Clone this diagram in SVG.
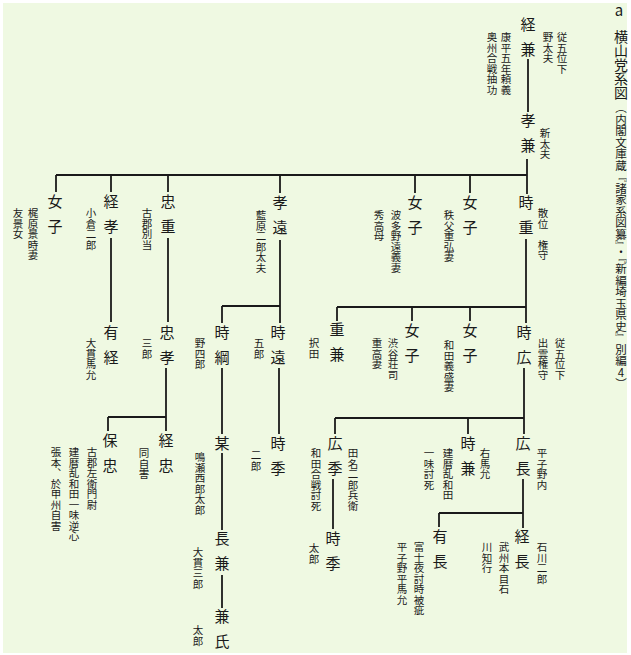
<svg xmlns="http://www.w3.org/2000/svg" width="631" height="655" viewBox="0 0 631 655">
<style>
text { font-family: "Noto Sans CJK JP", "Noto Sans CJK SC", sans-serif; fill: #1a1a1a; writing-mode: vertical-rl; text-orientation: upright; }
.n { font-size: 15px; letter-spacing: 10px; }
.a { font-size: 10.5px; }
.t { font-size: 14px; }
.s { font-size: 11.5px; }
.c line { stroke: #1a1a1a; stroke-width: 1.8; }
</style>
<rect width="631" height="655" fill="#ffffff"/>
<rect x="3" y="3" width="624" height="650" fill="#eff9e2"/>
<g id="title">
<text x="619" y="16" style="writing-mode:horizontal-tb" text-anchor="middle" font-size="15">a</text>
<text class="t" x="621" y="30">横山党系図</text>
<text class="s" x="621" y="102">（内閣文庫蔵『諸家系図纂』・『新編埼玉県史』別編4）</text>
</g>
<g class="c" id="connectors">
<line x1="528" y1="59" x2="528" y2="112"/>
<line x1="527" y1="159" x2="527" y2="194"/>
<line x1="56" y1="175" x2="527" y2="175"/>
<line x1="56" y1="175" x2="56" y2="192"/>
<line x1="111" y1="175" x2="111" y2="192"/>
<line x1="168" y1="175" x2="168" y2="192"/>
<line x1="280" y1="175" x2="280" y2="193"/>
<line x1="415" y1="175" x2="415" y2="193"/>
<line x1="470" y1="175" x2="470" y2="193"/>
<line x1="111" y1="238" x2="111" y2="322"/>
<line x1="168" y1="238" x2="168" y2="322"/>
<line x1="280" y1="240" x2="280" y2="306"/>
<line x1="222" y1="306" x2="280" y2="306"/>
<line x1="222" y1="306" x2="222" y2="323"/>
<line x1="280" y1="306" x2="280" y2="323"/>
<line x1="526" y1="239" x2="526" y2="323"/>
<line x1="337" y1="307" x2="526" y2="307"/>
<line x1="337" y1="307" x2="337" y2="321"/>
<line x1="412" y1="307" x2="412" y2="321"/>
<line x1="470" y1="307" x2="470" y2="321"/>
<line x1="166" y1="368" x2="166" y2="431"/>
<line x1="108" y1="417" x2="166" y2="417"/>
<line x1="108" y1="417" x2="108" y2="431"/>
<line x1="222" y1="368" x2="222" y2="434"/>
<line x1="222" y1="453" x2="222" y2="530"/>
<line x1="222" y1="575" x2="222" y2="608"/>
<line x1="279" y1="368" x2="279" y2="434"/>
<line x1="524" y1="368" x2="524" y2="434"/>
<line x1="335" y1="418" x2="524" y2="418"/>
<line x1="335" y1="418" x2="335" y2="434"/>
<line x1="468" y1="418" x2="468" y2="434"/>
<line x1="333" y1="479" x2="333" y2="529"/>
<line x1="523" y1="479" x2="523" y2="528"/>
<line x1="439" y1="513" x2="523" y2="513"/>
<line x1="439" y1="513" x2="439" y2="527"/>
</g>
<g id="n-tsunekane">
<text class="n" x="528" y="17">経兼</text>
<text class="a" x="562" y="32">従五位下</text>
<text class="a" x="548" y="32">野太夫</text>
<text class="a" x="506" y="32">康平五年頼義</text>
<text class="a" x="492" y="32">奥州合戦抽功</text>
</g>
<g id="n-takakane">
<text class="n" x="528" y="113">孝兼</text>
<text class="a" x="545" y="128">新太夫</text>
</g>
<g id="n-nyoshi1">
<text class="n" x="55" y="194">女子</text>
<text class="a" x="33" y="208">梶原景時妻</text>
<text class="a" x="18" y="208">友景女</text>
</g>
<g id="n-tsunetaka">
<text class="n" x="111" y="194">経孝</text>
<text class="a" x="91" y="208">小倉二郎</text>
</g>
<g id="n-tadashige">
<text class="n" x="168" y="194">忠重</text>
<text class="a" x="147" y="208">古郡別当</text>
</g>
<g id="n-takato">
<text class="n" x="280" y="195">孝遠</text>
<text class="a" x="261" y="210">藍原二郎太夫</text>
</g>
<g id="n-nyoshi2">
<text class="n" x="415" y="195">女子</text>
<text class="a" x="396" y="210">波多野遠義妻</text>
<text class="a" x="379" y="210">秀高母</text>
</g>
<g id="n-nyoshi3">
<text class="n" x="470" y="195">女子</text>
<text class="a" x="449" y="210">秩父重弘妻</text>
</g>
<g id="n-tokishige">
<text class="n" x="526" y="195">時重</text>
<text class="a" x="543" y="208">散位　権守</text>
</g>
<g id="n-aritsune">
<text class="n" x="111" y="325">有経</text>
<text class="a" x="91" y="338">大貫馬允</text>
</g>
<g id="n-tadataka">
<text class="n" x="167" y="325">忠孝</text>
<text class="a" x="147" y="338">三郎</text>
</g>
<g id="n-tokitsuna">
<text class="n" x="222" y="325">時綱</text>
<text class="a" x="200" y="338">野四郎</text>
</g>
<g id="n-tokito">
<text class="n" x="278" y="325">時遠</text>
<text class="a" x="259" y="338">五郎</text>
</g>
<g id="n-shigekane">
<text class="n" x="337" y="322">重兼</text>
<text class="a" x="314" y="338">択田</text>
</g>
<g id="n-nyoshi4">
<text class="n" x="412" y="323">女子</text>
<text class="a" x="393" y="338">渋谷荘司</text>
<text class="a" x="377" y="338">重高妻</text>
</g>
<g id="n-nyoshi5">
<text class="n" x="470" y="323">女子</text>
<text class="a" x="449" y="340">和田義盛妻</text>
</g>
<g id="n-tokihiro">
<text class="n" x="524" y="325">時広</text>
<text class="a" x="560" y="338">従五位下</text>
<text class="a" x="543" y="338">出雲権守</text>
</g>
<g id="n-yasutada">
<text class="n" x="110" y="433">保忠</text>
<text class="a" x="92" y="447">古郡左衛門尉</text>
<text class="a" x="74" y="447">建暦乱和田一味逆心</text>
<text class="a" x="56" y="447">張本、於甲州自害</text>
</g>
<g id="n-tsunetada">
<text class="n" x="166" y="433">経忠</text>
<text class="a" x="144" y="448">同自害</text>
</g>
<g id="n-bou">
<text class="n" x="222" y="436">某</text>
<text class="a" x="200" y="452">鳴瀬西郎太郎</text>
</g>
<g id="n-tokisue1">
<text class="n" x="278" y="436">時季</text>
<text class="a" x="256" y="450">二郎</text>
</g>
<g id="n-hirosue">
<text class="n" x="335" y="436">広季</text>
<text class="a" x="353" y="448">田名二郎兵衛</text>
<text class="a" x="316" y="448">和田合戦討死</text>
</g>
<g id="n-tokikane">
<text class="n" x="468" y="436">時兼</text>
<text class="a" x="485" y="448">右馬允</text>
<text class="a" x="448" y="448">建暦乱和田</text>
<text class="a" x="429" y="448">一味討死</text>
</g>
<g id="n-hironaga">
<text class="n" x="523" y="436">広長</text>
<text class="a" x="542" y="448">平子野内</text>
</g>
<g id="n-tokisue2">
<text class="n" x="333" y="531">時季</text>
<text class="a" x="314" y="543">太郎</text>
</g>
<g id="n-nagakane">
<text class="n" x="222" y="531">長兼</text>
<text class="a" x="198" y="547">大貫三郎</text>
</g>
<g id="n-torinaga">
<text class="n" x="440" y="529">有長</text>
<text class="a" x="419" y="542">富士夜討時被疵</text>
<text class="a" x="402" y="542">平子野平馬允</text>
</g>
<g id="n-tsunenaga">
<text class="n" x="522" y="529">経長</text>
<text class="a" x="542" y="542">石川二郎</text>
<text class="a" x="504" y="542">武州本目石</text>
<text class="a" x="487" y="542">川知行</text>
</g>
<g id="n-kaneuji">
<text x="222" y="609" font-size="15">兼<tspan dy="10">氏</tspan></text>
<text class="a" x="198" y="625">太郎</text>
</g>
</svg>
